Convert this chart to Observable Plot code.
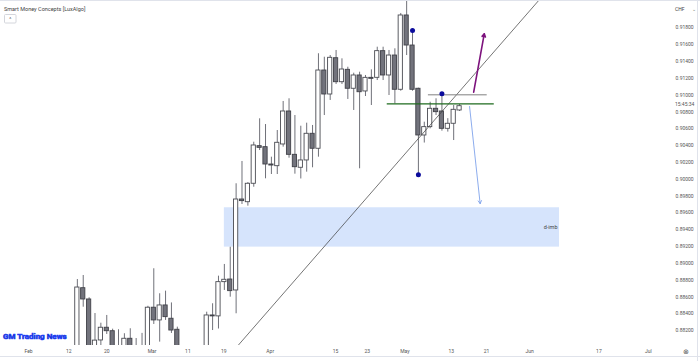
<!DOCTYPE html>
<html><head><meta charset="utf-8">
<script src="https://cdn.jsdelivr.net/npm/d3@7"></script>
<script src="https://cdn.jsdelivr.net/npm/@observablehq/plot@0.6"></script>
<style>
body{margin:0;background:#fff;}
#wrap{position:relative;width:700px;height:361px;overflow:hidden;}
</style></head><body><div id="wrap"></div>
<script>
// Daily USD/CHF candles (trading-day index 1 = Feb 13)
const dates = ["Feb 13","Feb 14","Feb 15","Feb 16","Feb 19","Feb 20","Feb 21","Feb 22","Feb 23","Feb 26","Feb 27","Feb 28","Feb 29",
"Mar 1","Mar 4","Mar 5","Mar 6","Mar 7","Mar 8","Mar 11","Mar 12","Mar 13","Mar 14","Mar 15","Mar 18","Mar 19","Mar 20","Mar 21","Mar 22","Mar 25","Mar 26","Mar 27","Mar 28","Mar 29",
"Apr 1","Apr 2","Apr 3","Apr 4","Apr 5","Apr 8","Apr 9","Apr 10","Apr 11","Apr 12","Apr 15","Apr 16","Apr 17","Apr 18","Apr 19","Apr 22","Apr 23","Apr 24","Apr 25","Apr 26","Apr 29","Apr 30",
"May 1","May 2","May 3","May 6","May 7","May 8","May 9","May 10","May 13","May 14"];
const open  = [0.8792,0.88705,0.88571,0.8801,0.88084,0.88235,0.88194,0.8790,0.8795,0.88104,0.8790,0.8795,0.8800,
0.88473,0.88322,0.88500,0.88342,0.88211,0.8790,0.8770,0.8785,0.8795,0.8780,0.88381,0.88370,0.88777,0.88808,0.88678,0.89759,0.89727,0.89946,0.90393,0.90381,0.90175,
0.90155,0.90413,0.90805,0.90290,0.90136,0.90223,0.90540,0.90362,0.91292,0.91007,0.91438,0.91153,0.91300,0.91075,0.91233,0.91043,0.91205,0.91205,0.91522,0.91233,0.91470,0.91063,
0.91946,0.91589,0.91075,0.90520,0.90619,0.90837,0.90805,0.90599,0.90659,0.90817];
const high  = [0.88808,0.88856,0.88591,0.88404,0.88289,0.88381,0.88218,0.88211,0.88164,0.88223,0.88107,0.88168,0.8849,
0.88936,0.88639,0.88670,0.8853,0.88242,0.8800,0.8790,0.8800,0.8800,0.88420,0.88520,0.88848,0.88987,0.89192,0.89946,0.90211,0.89960,0.90440,0.90718,0.90650,0.90262,
0.90579,0.90924,0.90956,0.90757,0.9063,0.90666,0.90639,0.91491,0.91450,0.91470,0.91530,0.91431,0.91331,0.91260,0.91272,0.91233,0.91300,0.91569,0.91569,0.91530,0.91550,0.91970,
0.9224,0.91740,0.91082,0.90678,0.90915,0.90956,0.91015,0.9072,0.90876,0.90888];
const low   = [0.8780,0.88479,0.8795,0.8795,0.8800,0.88155,0.8795,0.8785,0.8790,0.8790,0.8780,0.8785,0.8795,
0.88274,0.88064,0.88322,0.88167,0.8775,0.8760,0.8760,0.8770,0.8775,0.8775,0.88202,0.8822,0.88678,0.88598,0.88401,0.89700,0.89680,0.89905,0.90341,0.90005,0.90056,
0.90056,0.90381,0.90250,0.90060,0.90003,0.90084,0.90136,0.90262,0.90757,0.90936,0.91126,0.91126,0.90948,0.90817,0.90124,0.90983,0.90876,0.91173,0.91173,0.90995,0.90896,0.91046,
0.91470,0.91046,0.90065,0.9043,0.90599,0.90757,0.90571,0.90560,0.90460,0.90805];
const close = [0.88713,0.88571,0.8800,0.88082,0.88235,0.88194,0.8800,0.8800,0.88104,0.8795,0.8795,0.8800,0.88473,
0.88322,0.88500,0.88361,0.88202,0.8790,0.8770,0.8785,0.8795,0.8780,0.88381,0.88370,0.88777,0.88805,0.88670,0.89759,0.89740,0.89946,0.90401,0.90373,0.90175,0.90163,
0.90433,0.90805,0.90290,0.90143,0.90223,0.90540,0.90362,0.91292,0.91007,0.91443,0.91153,0.91304,0.91075,0.91233,0.91034,0.91205,0.91193,0.91522,0.91233,0.91470,0.91063,0.91946,
0.91589,0.91063,0.90520,0.90619,0.90837,0.90797,0.90599,0.90659,0.90825,0.90868];

// Axis ticks
const xTickPos    = [-7.3,-0.45,6.0,13.7,19.8,25.9,33.8,44.9,50.3,56.7,64.6,70.6,77.9,89.7,98.1];
const xTickLabels = ["Feb","12","20","Mar","11","19","Apr","15","23","May","13","21","Jun","17","Jul"];
const yTicks = d3.range(0, 19).map(k => +(0.882 + k * 0.002).toFixed(3));

// Annotations (Smart Money Concepts)
const zoneX = [26.0, 83.0];
const zoneY = [0.89193, 0.89661];
const zoneLabel = "d-imb";
const trendDays = [28, 80];
const trendVals = [0.87998, 0.92168];
const swingDays = [58, 63, 59];
const swingVals = [0.91767, 0.91015, 0.90053];
const levelStart = [53.7, 60.7];
const levelEnd   = [71.9, 70.7];
const levelVals  = [0.90896, 0.91003];
const levelColor = ["#1e6b1e", "#808080"];
const arrowFrom = [[68.4, 0.91034], [67.7, 0.90864]];
const arrowTo   = [[70.2, 0.91728], [69.5, 0.89710]];
const arrowColor = ["#7d137d", "#6f97e8"];
const arrowWidth = [1.6, 0.8];

const bars = dates.map((d, k) => ({i: k + 1, date: d, open: open[k], high: high[k], low: low[k], close: close[k]}));
const bull = bars.filter(b => b.close >= b.open);
const bear = bars.filter(b => b.close < b.open);
const labelMap = new Map(xTickPos.map((p, k) => [p, xTickLabels[k]]));
const zone = [{x1: zoneX[0], x2: zoneX[1], y1: zoneY[0], y2: zoneY[1]}];
const trend = trendDays.map((d, k) => ({x: d, y: trendVals[k]}));
const swings = swingDays.map((d, k) => ({x: d, y: swingVals[k]}));
const levels = levelVals.map((v, k) => ({x1: levelStart[k], x2: levelEnd[k], y: v, c: levelColor[k]}));
const arrows = arrowFrom.map((a, k) => ({x1: a[0], y1: a[1], x2: arrowTo[k][0], y2: arrowTo[k][1], c: arrowColor[k], w: arrowWidth[k]}));

const chart = Plot.plot({
  width: 700, height: 361,
  marginLeft: 0, marginRight: 60, marginTop: 0, marginBottom: 16,
  style: {fontFamily: "Roboto, 'Noto Sans', sans-serif", background: "transparent"},
  x: {type: "linear", domain: [-12.07, 96.77]},
  y: {domain: [0.88024, 0.92124]},
  marks: [
    Plot.rect(zone, {x1: "x1", x2: "x2", y1: "y1", y2: "y2", fill: "#d6e4fc"}),
    Plot.text(zone, {x: "x2", y: d => (d.y1 + d.y2) / 2, text: () => zoneLabel, textAnchor: "end", dx: -2, fontSize: 5.5, fill: "#444"}),
    Plot.ruleX(bars, {x: "i", y1: "low", y2: "high", stroke: "#707179", strokeWidth: 1, clip: true}),
    Plot.rect(bull, {x1: d => d.i - 0.36, x2: d => d.i + 0.36, y1: "open", y2: "close", fill: "white", stroke: "#4a4b52", strokeWidth: 0.9, clip: true}),
    Plot.rect(bear, {x1: d => d.i - 0.36, x2: d => d.i + 0.36, y1: "open", y2: "close", fill: "#72737c", stroke: "#404148", strokeWidth: 0.9, clip: true}),
    Plot.line(trend, {x: "x", y: "y", stroke: "#3a3a3a", strokeWidth: 0.7, clip: true}),
    Plot.ruleY(levels, {x1: "x1", x2: "x2", y: "y", stroke: d => d.c, strokeWidth: d => d.c === "#1e6b1e" ? 1.4 : 1}),
    Plot.arrow(arrows, {x1: "x1", y1: "y1", x2: "x2", y2: "y2", stroke: d => d.c, strokeWidth: d => d.w, headLength: 5, bend: 0}),
    Plot.dot(swings, {x: "x", y: "y", r: 2.5, fill: "#0b0b9c"}),
    Plot.axisY({anchor: "right", ticks: yTicks, tickFormat: d => d.toFixed(5), tickSize: 0, tickPadding: 35, fontSize: 5, color: "#555", label: null}),
    Plot.axisX({ticks: xTickPos, tickFormat: d => labelMap.get(d), tickSize: 0, tickPadding: 4, fontSize: 5, color: "#555", label: null})
  ]
});
chart.style.position = "absolute";
chart.style.left = "0px";
chart.style.top = "0px";
document.getElementById("wrap").appendChild(chart);

// chrome decorations as SVG text
const svg = d3.select(chart);
const g = svg.append("g").attr("font-family", "Roboto, 'Noto Sans', sans-serif").attr("text-anchor", "start");
g.append("line").attr("x1", 0).attr("x2", 700).attr("y1", 0.5).attr("y2", 0.5).attr("stroke", "#e0e3eb");
g.append("line").attr("x1", 0).attr("x2", 700).attr("y1", 356.5).attr("y2", 356.5).attr("stroke", "#e0e3eb");
g.append("line").attr("x1", 697.5).attr("x2", 697.5).attr("y1", 0).attr("y2", 361).attr("stroke", "#e0e3eb");
g.append("text").attr("x", 4).attr("y", 11).attr("font-size", 5.5).attr("fill", "#444").text("Smart Money Concepts [LuxAlgo]");
g.append("rect").attr("x", 4.5).attr("y", 14.5).attr("width", 11.5).attr("height", 8.5).attr("rx", 1).attr("fill", "white").attr("stroke", "#d4d6dc");
g.append("text").attr("x", 10.25).attr("y", 21).attr("font-size", 5).attr("text-anchor", "middle").attr("fill", "#555").text("^");
g.append("text").attr("x", 675).attr("y", 10.5).attr("font-size", 5).attr("fill", "#444").text("CHF");
g.append("text").attr("x", 692).attr("y", 10.5).attr("font-size", 5).attr("fill", "#777").text("⌄");
g.append("text").attr("x", 675).attr("y", 106).attr("font-size", 5).attr("fill", "#555").text("15:45:34");
g.append("text").attr("x", 686).attr("y", 353.5).attr("font-size", 7).attr("text-anchor", "middle").attr("fill", "#555").text("⊗");
g.append("text").attr("x", 3).attr("y", 339).attr("font-size", 8).attr("font-weight", "bold")
  .attr("fill", "#0a1a7a").attr("stroke", "#2040ff").attr("stroke-width", 0.6).text("GM Trading News");
</script></body></html>
